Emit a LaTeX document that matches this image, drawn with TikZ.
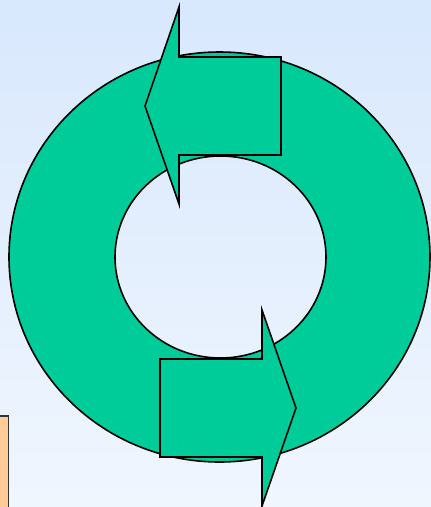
\documentclass[tikz,border=0pt]{standalone}
\begin{document}
\begin{tikzpicture}[x=1pt,y=-1pt,
  ringfill/.style={fill=ringgreen,draw=black,line width=1.6pt,even odd rule},
  arrowshape/.style={fill=ringgreen,draw=black,line width=1.6pt,line join=miter},
  notebox/.style={fill=noteorange,draw=black!80,line width=1.6pt}]
\definecolor{ringgreen}{HTML}{00CC99}
\definecolor{noteorange}{HTML}{FFCC99}
\definecolor{bgtop}{RGB}{216,232,253}
\definecolor{bgmid}{RGB}{205,225,251}
\definecolor{bgbot}{RGB}{240,246,254}
\useasboundingbox (0,0) rectangle (431,507);
\clip (0,0) rectangle (431,507);
\shade[top color=bgtop,middle color=bgmid,bottom color=bgbot] (0,0) rectangle (431,507);
% ring
\path[ringfill] (219.5,257) ellipse [x radius=210.5,y radius=205]
  (220.5,257) ellipse [x radius=105.5,y radius=101];
% inner hole tint (background seen through the ring)
% top arrow pointing left
\path[arrowshape] (281,57) -- (179,57) -- (179,7) -- (145,106) -- (179,204)
  -- (179,155) -- (281,155) -- cycle;
% bottom arrow pointing right
\path[arrowshape] (160,359) -- (262,359) -- (262,310) -- (296,408) -- (262,506)
  -- (262,457) -- (160,457) -- cycle;
% orange box at bottom-left
\path[notebox] (-10,416) rectangle (8.5,520);
\end{tikzpicture}
\end{document}
